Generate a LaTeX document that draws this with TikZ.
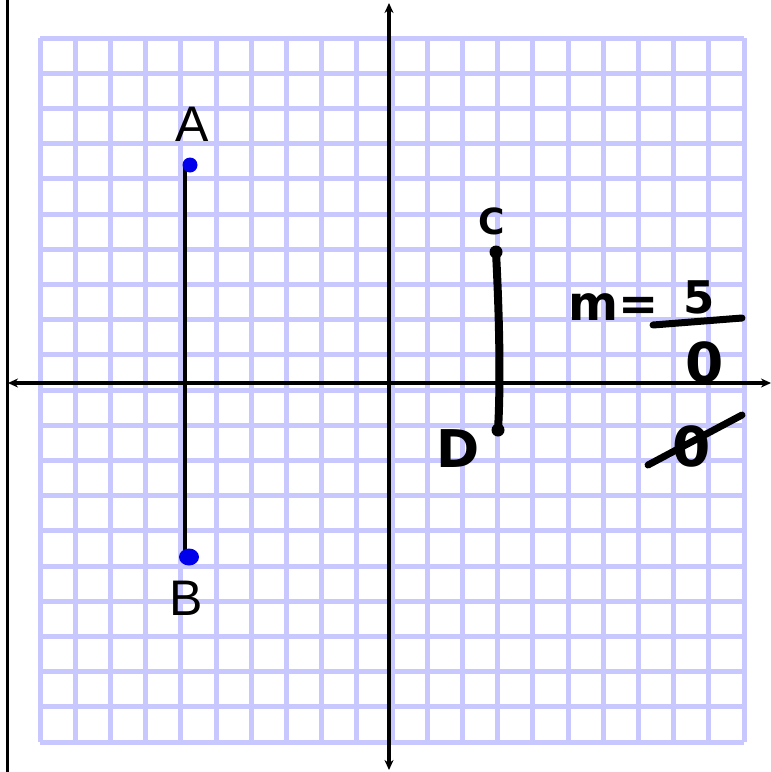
\documentclass[tikz,border=0pt]{standalone}
\usepackage{fontspec}
\setmainfont{Liberation Sans}
\newfontfamily\handfont{DejaVu Sans}
\usetikzlibrary{arrows.meta,calc}
\definecolor{gridblue}{RGB}{200,200,255}
\definecolor{dotblue}{RGB}{0,0,235}

\begin{document}
\begin{tikzpicture}[x=1pt,y=-1pt,
  gridline/.style={gridblue,line width=5pt},
  axisline/.style={line width=3.5pt,{Stealth[length=10pt,width=9pt]}-{Stealth[length=10pt,width=9pt]}},
  ink/.style={line width=7pt,line cap=round},
  hand/.style={inner sep=0pt,anchor=base,font=\handfont\bfseries\fontsize{#1}{#1}\selectfont}]
\useasboundingbox (0,0) rectangle (771,772);
% Grid
\foreach \i in {0,...,20}
  {\draw[gridline] ({40+35.2*\i},38) -- ({40+35.2*\i},742);
   \draw[gridline] (40,{38+35.2*\i}) -- (744,{38+35.2*\i});}
% Axes
\coordinate (xl) at (8,383);
\coordinate (xr) at (771,383);
\coordinate (yt) at (389,3);
\coordinate (yb) at (389,770);
\draw[axisline] (xl) -- (xr);
\draw[axisline] (yt) -- (yb);
\draw[line width=3pt] (7,0) -- (7,772);
% Segment AB
\coordinate (A) at (185,165);
\coordinate (B) at (185,557);
\draw[line width=4pt] (A) -- (B);
\fill[dotblue] ([xshift=5pt]A) circle (7.5pt);
\fill[dotblue] ([xshift=4pt]B) ellipse (10pt and 8.5pt);
\node[font=\fontsize{50}{50}\selectfont] (labA) at (192,124) {A};
\node[font=\fontsize{50}{50}\selectfont] (labB) at (186,598) {B};
% Segment CD
\coordinate (C) at (496,252);
\coordinate (D) at (498,430);
\draw[line width=8pt,line cap=round] (C) .. controls (499,310) and (501,380) .. (D);
\fill (C) circle (6.5pt);
\fill (D) circle (6.5pt);
\node[hand=36] (labC) at (492,234) {C};
\node[hand=52] (labD) at (458,467) {D};
% Slope
\node[hand=48,anchor=base west] (slope) at (568,320) {m=};
\node[hand=45] (num) at (699,313) {5};
\coordinate (barl) at (653,325);
\coordinate (barr) at (742,318);
\draw[ink] (barl) -- (barr);
\node[hand=55] (den) at (705,382) {0};
\node[hand=55] (zero) at (692,466) {0};
\coordinate (crossl) at (648,465);
\coordinate (crossr) at (742,415);
\draw[ink] (crossl) -- (crossr);
\end{tikzpicture}
\end{document}
